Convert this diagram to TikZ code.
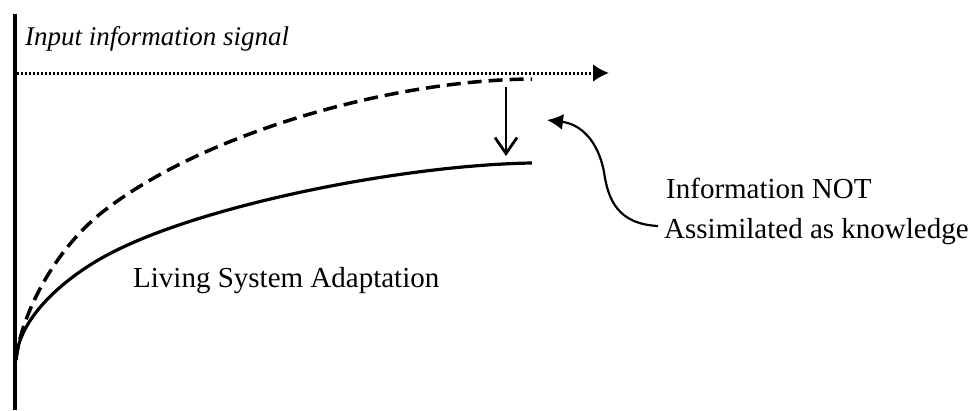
\documentclass[tikz,border=0pt]{standalone}
\usepackage{fontspec}
\setmainfont{Liberation Serif}
\usetikzlibrary{arrows.meta}
\begin{document}
\begin{tikzpicture}[x=1pt,y=-1pt,
  lbl/.style={inner sep=0pt, anchor=base west, font=\fontsize{29}{34}\selectfont},
  ilbl/.style={inner sep=0pt, anchor=base west, font=\itshape\fontsize{27}{32}\selectfont},
  axisline/.style={line width=4pt},
  actual/.style={line width=3.2pt},
  potential/.style={line width=3.5pt, dash pattern=on 14pt off 7pt},
  signal/.style={line width=3pt, dash pattern=on 2.2pt off 1.8pt, -{Latex[length=16pt,width=18pt]}},
  droparrow/.style={line width=2.8pt, -{Straight Barb[length=16pt,width=22pt,line width=2.8pt]}},
  callout/.style={line width=2.2pt, -{Latex[length=16pt,width=16pt]}}]
\useasboundingbox (0,0) rectangle (979,410);
\fill[white] (0,0) rectangle (979,410);

% axis
\coordinate (axtop) at (15,14);
\coordinate (axbot) at (15,410);
\draw[axisline] (axtop) -- (axbot);

% labels
\node[ilbl] (sig) at (25,45) {Input information signal};
\node[lbl] (lsa) at (133,287) {Living System Adaptation};
\node[lbl] (inf1) at (666,198) {Information NOT};
\node[lbl] (inf2) at (664,238) {Assimilated as knowledge};

% input signal (dotted arrow)
\coordinate (sigA) at (17,73);
\coordinate (sigB) at (609,73);
\draw[signal] (sigA) -- (sigB);

% potential (dashed) curve
\coordinate (dStart) at (16,360);
\coordinate (dMid) at (100,214);
\coordinate (dEnd) at (532,79);
\draw[potential] (dStart) .. controls (20,320) and (50,255) .. (dMid)
  .. controls (200,134) and (390,80) .. (dEnd);

% actual adaptation (solid) curve
\coordinate (sStart) at (16,360);
\coordinate (sMid) at (100,259);
\coordinate (sEnd) at (532,163);
\draw[actual] (sStart) .. controls (18,320) and (60,282) .. (sMid)
  .. controls (190,207) and (400,165) .. (sEnd);

% drop arrow
\coordinate (dropA) at (506,87);
\coordinate (dropB) at (506,156);
\draw[droparrow] (dropA) -- (dropB);

% callout arrow
\coordinate (cStart) at (658,226);
\coordinate (cTip) at (547,120);
\draw[callout] (cStart) .. controls (618,224) and (608,200) .. (604,172)
  .. controls (598,140) and (580,124) .. (cTip);
\end{tikzpicture}
\end{document}
